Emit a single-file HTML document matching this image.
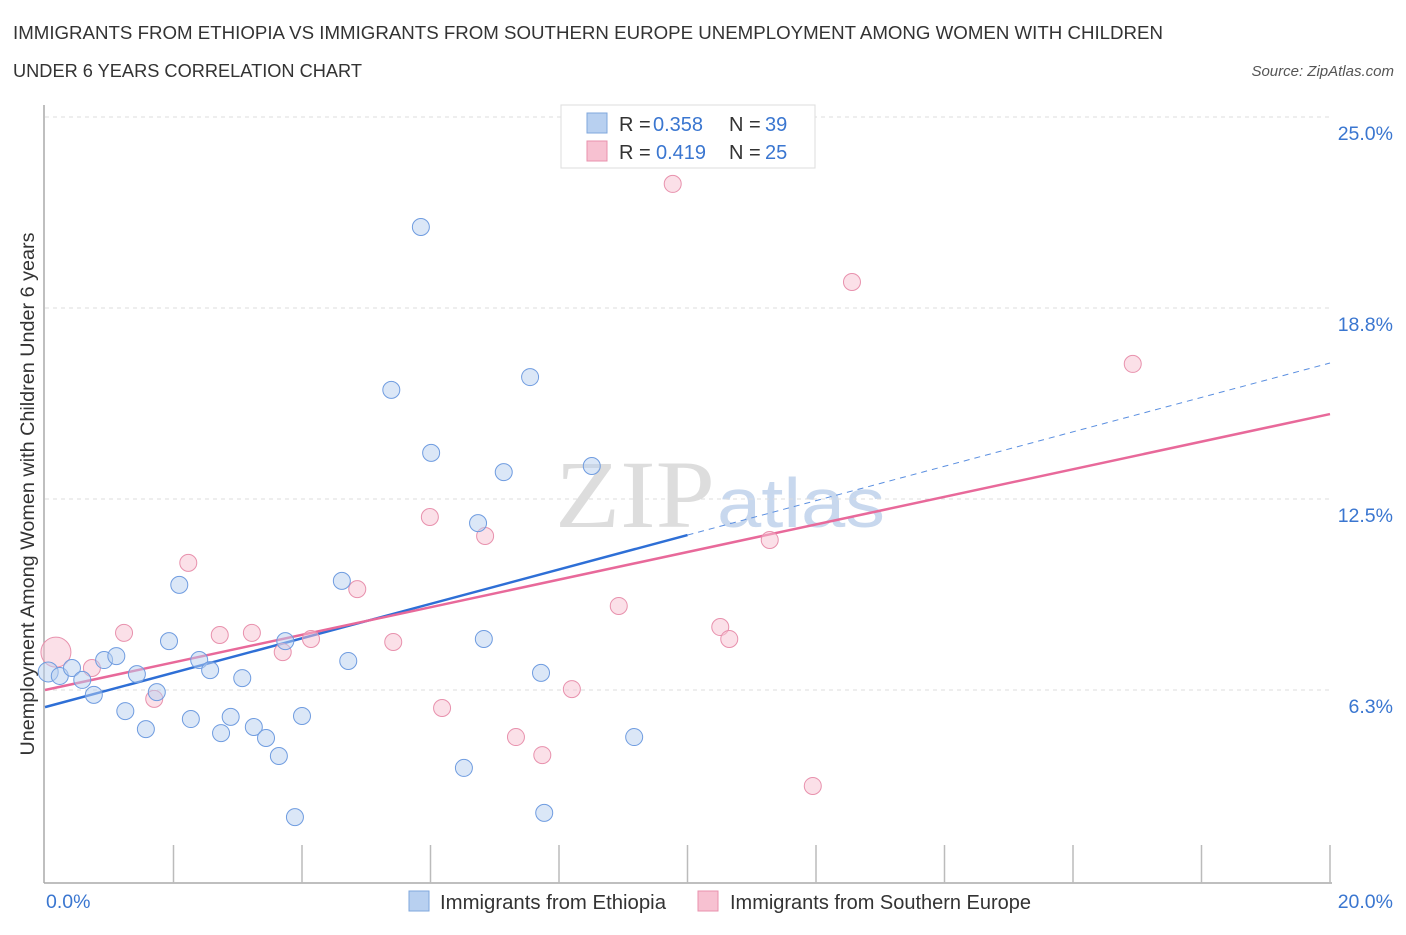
<!DOCTYPE html>
<html><head><meta charset="utf-8"><style>
body{margin:0;background:#fff;font-family:"Liberation Sans",sans-serif;}
svg text{font-family:"Liberation Sans",sans-serif;}
</style></head><body>
<svg id="chart" width="1406" height="930" xmlns="http://www.w3.org/2000/svg">
<text x="13" y="39" font-size="18.5" fill="#333" textLength="1150" lengthAdjust="spacingAndGlyphs">IMMIGRANTS FROM ETHIOPIA VS IMMIGRANTS FROM SOUTHERN EUROPE UNEMPLOYMENT AMONG WOMEN WITH CHILDREN</text>
<text x="13" y="77" font-size="18.5" fill="#333" textLength="349" lengthAdjust="spacingAndGlyphs">UNDER 6 YEARS CORRELATION CHART</text>
<text x="1394" y="76" font-size="15" fill="#555" font-style="italic" text-anchor="end">Source: ZipAtlas.com</text>
<text x="555" y="527" font-size="96" fill="#ddd" textLength="160" lengthAdjust="spacingAndGlyphs" style="font-family:'Liberation Serif',serif">ZIP</text>
<text x="717" y="527" font-size="70" fill="#c8d8ee" textLength="168" lengthAdjust="spacingAndGlyphs">atlas</text>
<g id="grid"></g>
<g id="axes"></g>
<g id="lines"></g>
<g id="pts"></g>
<text transform="translate(34,494) rotate(-90)" font-size="19.5" fill="#333" text-anchor="middle" textLength="523" lengthAdjust="spacingAndGlyphs">Unemployment Among Women with Children Under 6 years</text>
<text x="46" y="908" font-size="19.5" fill="#3a76d0">0.0%</text>
<text x="1393" y="908" font-size="19.5" fill="#3a76d0" text-anchor="end">20.0%</text>
<g>
<rect x="561" y="105" width="254" height="63" fill="#fff" stroke="#ddd"/>
<rect x="587" y="113" width="20" height="20" fill="#b8d0f0" stroke="#7fa7dd"/>
<text x="619" y="131" font-size="20" fill="#333">R = </text><text x="653" y="131" font-size="20" fill="#3a76d0">0.358</text>
<text x="729" y="131" font-size="20" fill="#333">N = </text><text x="765" y="131" font-size="20" fill="#3a76d0">39</text>
<rect x="587" y="141" width="20" height="20" fill="#f7c1d1" stroke="#e891ad"/>
<text x="619" y="159" font-size="20" fill="#333">R = </text><text x="656" y="159" font-size="20" fill="#3a76d0">0.419</text>
<text x="729" y="159" font-size="20" fill="#333">N = </text><text x="765" y="159" font-size="20" fill="#3a76d0">25</text>
</g>
<g>
<rect x="409" y="891" width="20" height="20" fill="#b8d0f0" stroke="#7fa7dd"/>
<text x="440" y="909" font-size="20" fill="#333" textLength="226" lengthAdjust="spacingAndGlyphs">Immigrants from Ethiopia</text>
<rect x="698" y="891" width="20" height="20" fill="#f7c1d1" stroke="#e891ad"/>
<text x="730" y="909" font-size="20" fill="#333" textLength="301" lengthAdjust="spacingAndGlyphs">Immigrants from Southern Europe</text>
</g>
</svg>
<script>
const yTicks=[6.25,12.5,18.75,25];
const yTickLabels=["6.3%","12.5%","18.8%","25.0%"];
const xTicks=[0,2,4,6,8,10,12,14,16,18,20];
const ethX=[0.05,0.23,0.42,0.58,0.76,0.92,1.11,1.25,1.43,1.57,1.74,1.93,2.09,2.27,2.40,2.57,2.74,2.89,3.07,3.25,3.44,3.64,3.74,3.89,4.00,4.62,4.72,5.39,5.85,6.01,6.52,6.74,6.83,7.14,7.55,7.72,7.77,8.51,9.17];
const ethY=[6.84,6.71,6.97,6.58,6.09,7.23,7.36,5.56,6.77,4.97,6.18,7.85,9.69,5.30,7.23,6.90,4.84,5.37,6.64,5.04,4.68,4.09,7.85,2.09,5.40,9.82,7.20,16.07,21.40,14.01,3.70,11.71,7.92,13.38,16.49,6.81,2.23,13.58,4.71];
const seX=[0.17,0.73,1.23,1.70,2.23,2.72,3.22,3.70,4.14,4.86,5.42,5.99,6.18,6.85,7.33,7.74,8.20,8.93,9.77,10.51,10.65,11.28,11.95,12.56,16.93];
const seY=[7.49,6.97,8.12,5.96,10.41,8.05,8.12,7.49,7.92,9.55,7.82,11.91,5.66,11.29,4.71,4.12,6.28,9.00,22.81,8.31,7.92,11.16,3.11,19.60,16.92];
const ethTrend=[5.69,16.95];
const seTrend=[6.25,15.28];
const X0=45,X1=1330,Y0=881,PXY=30.56;
const sx=v=>X0+(X1-X0)*v/20;
const sy=v=>Y0-v*PXY;
const NS="http://www.w3.org/2000/svg";
function mk(tag,attrs,parent){const e=document.createElementNS(NS,tag);for(const k in attrs)e.setAttribute(k,attrs[k]);document.getElementById(parent).appendChild(e);return e;}
yTicks.forEach((t,i)=>{
 const l=mk('line',{x1:45,x2:1330,y1:sy(t),y2:sy(t),stroke:'#ddd','stroke-dasharray':'4,4'},'grid');
 
 
 const tx=mk('text',{x:1393,y:sy(t)+23,'font-size':19.5,fill:'#3a76d0','text-anchor':'end'},'grid');
 tx.textContent=yTickLabels[i];
 
 
});
const ax=mk('line',{x1:44,x2:44,y1:105,y2:883,stroke:'#aaa','stroke-width':1.5},'axes');


const axx=mk('line',{x1:44,x2:1332,y1:883,y2:883,stroke:'#aaa','stroke-width':1.5},'axes');


xTicks.forEach(t=>{
 if(t===0)return;
 const l=mk('line',{x1:sx(t),x2:sx(t),y1:845,y2:883,stroke:'#bbb','stroke-width':1.5},'axes');
 
 
});
const mid=ethTrend[0]+(ethTrend[1]-ethTrend[0])/2;
const b1=mk('line',{x1:sx(0),y1:sy(ethTrend[0]),x2:sx(10),y2:sy(mid),stroke:'#2e6fd6','stroke-width':2.5},'lines');


const b2=mk('line',{x1:sx(10),y1:sy(mid),x2:sx(20),y2:sy(ethTrend[1]),stroke:'#5b8fe0','stroke-width':1,'stroke-dasharray':'6,5'},'lines');


const p1=mk('line',{x1:sx(0),y1:sy(seTrend[0]),x2:sx(20),y2:sy(seTrend[1]),stroke:'#e8699a','stroke-width':2.5},'lines');


seX.forEach((x,i)=>{
 const c=mk('circle',{cx:sx(x),cy:sy(seY[i]),r:i===0?15:8.5,fill:'#f7c1d1','fill-opacity':0.5,stroke:'#e891ad','stroke-width':1},'pts');
 
 
});
ethX.forEach((x,i)=>{
 const c=mk('circle',{cx:sx(x),cy:sy(ethY[i]),r:i===0?10:8.5,fill:'#b8d0f0','fill-opacity':0.5,stroke:'#6f9ce0','stroke-width':1},'pts');
 
 
});
</script>
</body></html>
